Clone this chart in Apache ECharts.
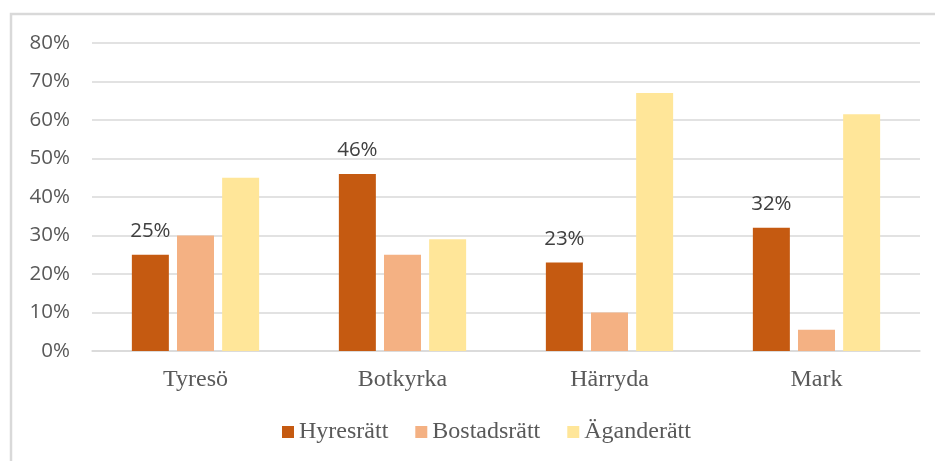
<!DOCTYPE html>
<html>
<head>
<meta charset="utf-8">
<script src="https://cdn.jsdelivr.net/npm/echarts@6/dist/echarts.min.js"></script>
<style>
html,body{margin:0;padding:0;background:#fff;}
#chart{width:935px;height:461px;}
</style>
</head>
<body>
<div id="chart"></div>
<script>
const categories = ['Tyresö', 'Botkyrka', 'Härryda', 'Mark'];
const seriesNames = ['Hyresrätt', 'Bostadsrätt', 'Äganderätt'];
const hyresratt = [25, 46, 23, 32];
const bostadsratt = [30, 25, 10, 5.5];
const aganderatt = [45, 29, 67, 61.5];
const colors = ['#C55A11', '#F4B183', '#FFE699'];

const chart = echarts.init(document.getElementById('chart'), null, {renderer: 'canvas'});
const sansFont = '"Open Sans", "Noto Sans", sans-serif';
const serifFont = '"Liberation Serif", "DejaVu Serif", serif';

const option = {
  animation: false,
  backgroundColor: '#fff',
  color: colors,
  graphic: [{
    type: 'rect',
    shape: {x: 11, y: 14, width: 1000, height: 1000},
    style: {fill: 'none', stroke: '#d9d9d9', lineWidth: 2.5},
    silent: true
  }],
  grid: {left: 92, right: 15, top: 43, bottom: 110, containLabel: false},
  legend: {
    data: seriesNames,
    bottom: 12,
    left: 277,
    itemWidth: 12,
    itemHeight: 12,
    itemGap: 27,
    icon: 'rect',
    textStyle: {fontFamily: serifFont, fontSize: 24, color: '#595959'}
  },
  xAxis: {
    type: 'category',
    data: categories,
    axisLine: {show: true, lineStyle: {color: '#d9d9d9', width: 1.5}},
    axisTick: {show: false},
    axisLabel: {fontFamily: serifFont, fontSize: 24, color: '#595959', margin: 17}
  },
  yAxis: {
    type: 'value',
    min: 0,
    max: 80,
    interval: 10,
    axisLine: {show: false},
    axisTick: {show: false},
    splitLine: {lineStyle: {color: '#d9d9d9', width: 1.5}},
    axisLabel: {
      formatter: v => v + '%',
      fontFamily: sansFont,
      fontSize: 20.5,
      color: '#595959',
      margin: 22
    }
  },
  series: [
    {
      name: seriesNames[0], type: 'bar', data: hyresratt,
      barWidth: 37, barGap: '22%',
      label: {
        show: true, position: 'top', distance: 13,
        formatter: p => Math.round(p.value) + '%',
        fontFamily: sansFont, fontSize: 20.5, color: '#404040'
      }
    },
    {name: seriesNames[1], type: 'bar', data: bostadsratt, barWidth: 37, barGap: '22%'},
    {name: seriesNames[2], type: 'bar', data: aganderatt, barWidth: 37, barGap: '22%'}
  ]
};
chart.setOption(option);
</script>
</body>
</html>
